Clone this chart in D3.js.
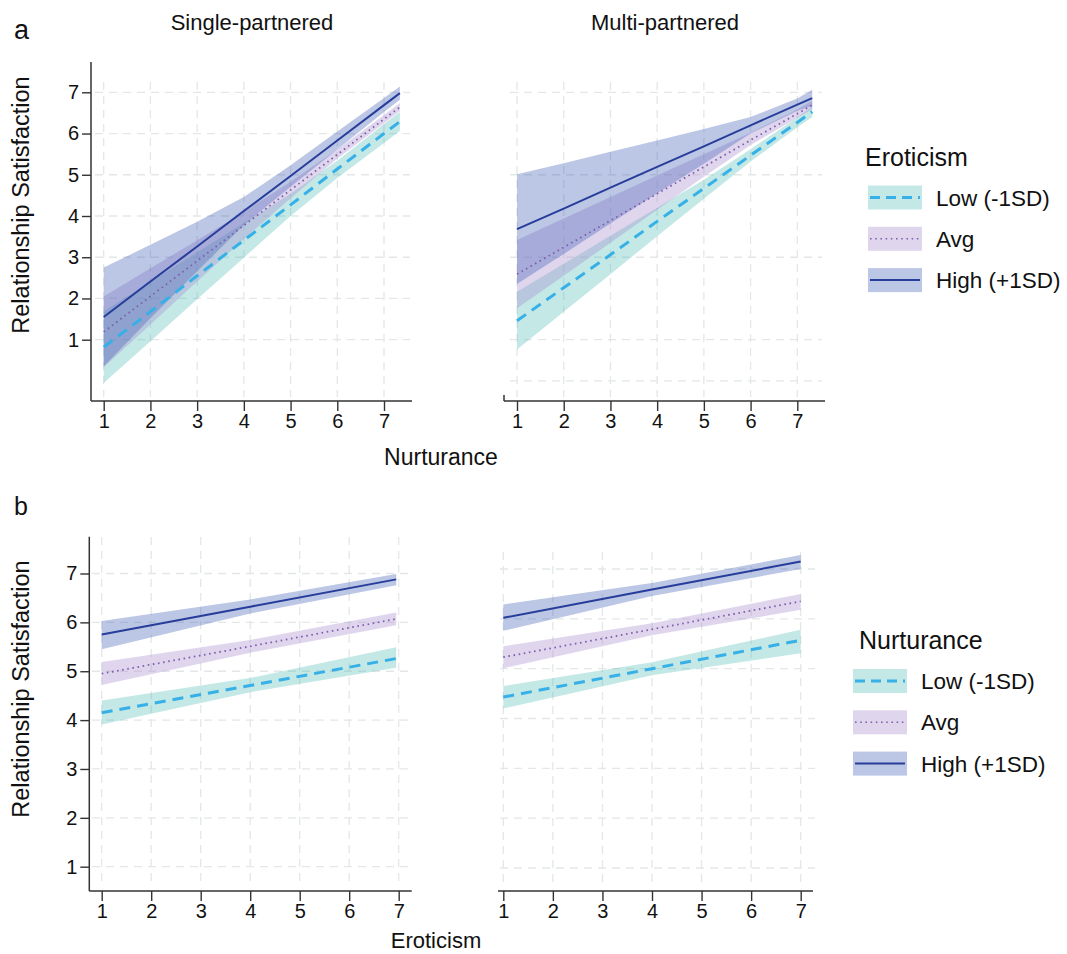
<!DOCTYPE html>
<html>
<head>
<meta charset="utf-8">
<script src="https://cdn.jsdelivr.net/npm/d3@7"></script>
<style>
	body { margin: 0; background: #fff; }
	text { font-family: "Liberation Sans", Arial, Helvetica, sans-serif; fill: #111; }
</style>
</head>
<body>
<svg id="chart" width="1067" height="954"></svg>
<script>
const levels = ["Low (-1SD)", "Avg", "High (+1SD)"];
const xTicks = [1, 2, 3, 4, 5, 6, 7];
const yTicks = [1, 2, 3, 4, 5, 6, 7];
const yGridMulti = [0, 1, 3, 5, 7];

// panel a, single-partnered (x = Nurturance)
const aSingleX = [1, 2, 3, 4, 5, 6, 7, 7.34];
const aSingleLowFit = [0.82, 1.68, 2.55, 3.41, 4.27, 5.14, 6.00, 6.29];
const aSingleLowLo = [-0.05, 0.96, 1.98, 2.99, 4.00, 4.92, 5.77, 6.06];
const aSingleLowHi = [1.69, 2.40, 3.12, 3.83, 4.54, 5.34, 6.23, 6.52];
const aSingleAvgFit = [1.19, 2.05, 2.91, 3.77, 4.63, 5.49, 6.35, 6.64];
const aSingleAvgLo = [0.33, 1.37, 2.41, 3.44, 4.43, 5.39, 6.25, 6.54];
const aSingleAvgHi = [2.05, 2.73, 3.41, 4.10, 4.83, 5.61, 6.45, 6.74];
const aSingleHighFit = [1.55, 2.41, 3.26, 4.12, 4.97, 5.83, 6.69, 6.98];
const aSingleHighLo = [0.35, 1.52, 2.66, 3.78, 4.71, 5.61, 6.52, 6.82];
const aSingleHighHi = [2.75, 3.30, 3.86, 4.46, 5.23, 6.05, 6.86, 7.14];

// panel a, multi-partnered
const aMultiX = [1, 2, 3, 4, 5, 6, 7, 7.32];
const aMultiLowFit = [1.46, 2.26, 3.06, 3.87, 4.67, 5.47, 6.27, 6.53];
const aMultiLowLo = [0.76, 1.68, 2.59, 3.51, 4.42, 5.32, 6.15, 6.40];
const aMultiLowHi = [2.16, 2.84, 3.52, 4.20, 4.88, 5.62, 6.39, 6.66];
const aMultiAvgFit = [2.59, 3.24, 3.89, 4.54, 5.19, 5.84, 6.48, 6.69];
const aMultiAvgLo = [1.76, 2.55, 3.35, 4.15, 4.95, 5.72, 6.38, 6.59];
const aMultiAvgHi = [3.42, 3.94, 4.46, 4.98, 5.50, 6.02, 6.58, 6.79];
const aMultiHighFit = [3.68, 4.18, 4.69, 5.19, 5.69, 6.20, 6.70, 6.86];
const aMultiHighLo = [2.35, 3.08, 3.82, 4.55, 5.27, 6.00, 6.55, 6.66];
const aMultiHighHi = [5.01, 5.28, 5.56, 5.83, 6.11, 6.40, 6.85, 7.06];

// panel b, single-partnered (x = Eroticism)
const bSingleX = [1, 4, 6.95];
const bSingleLowFit = [4.15, 4.71, 5.26];
const bSingleLowLo = [3.91, 4.57, 5.07];
const bSingleLowHi = [4.40, 4.86, 5.49];
const bSingleAvgFit = [4.95, 5.51, 6.07];
const bSingleAvgLo = [4.72, 5.38, 5.94];
const bSingleAvgHi = [5.19, 5.64, 6.20];
const bSingleHighFit = [5.75, 6.32, 6.88];
const bSingleHighLo = [5.45, 6.18, 6.76];
const bSingleHighHi = [6.03, 6.47, 6.99];

// panel b, multi-partnered
const bMultiX = [1, 4, 7];
const bMultiLowFit = [4.43, 5.00, 5.57];
const bMultiLowLo = [4.20, 4.87, 5.31];
const bMultiLowHi = [4.65, 5.13, 5.78];
const bMultiAvgFit = [5.23, 5.79, 6.35];
const bMultiAvgLo = [5.01, 5.67, 6.18];
const bMultiAvgHi = [5.45, 5.91, 6.50];
const bMultiHighFit = [6.02, 6.59, 7.15];
const bMultiHighLo = [5.76, 6.46, 7.00];
const bMultiHighHi = [6.29, 6.72, 7.28];

const bandColors = ["rgb(84,189,184)", "rgb(164,138,206)", "rgb(64,92,181)"];
const lineColors = ["#36b0e6", "#7d5fae", "#273d9a"];
const lineWidths = [3, 1.8, 2];
const lineDashes = ["11,7", "1.6,3.6", null];
const gridColor = "#e4e7e7";

const svg = d3.select("#chart");

function makeSeries(fits, los, his) {
	return levels.map((name, i) => ({ name, fit: fits[i], lo: los[i], hi: his[i] }));
}

function styleTicks(sel) {
	sel.attr("font-size", 20).attr("font-family", "'Liberation Sans', Arial, sans-serif");
	sel.select(".domain").remove();
	sel.selectAll(".tick line").attr("stroke", "#333").attr("stroke-width", 1.4);
	sel.selectAll(".tick text").attr("fill", "#111");
}

function drawPanel(cfg, xs, series) {
	const x = d3.scaleLinear().domain([1, 7]).range([cfg.x1, cfg.x7]);
	const y = d3.scaleLinear().domain([1, 7]).range([cfg.y1, cfg.y7]);
	const g = svg.append("g");

	g.selectAll(".vgrid")
		.data(xTicks)
		.enter()
		.append("line")
		.attr("x1", d => x(d))
		.attr("x2", d => x(d))
		.attr("y1", cfg.gridTop)
		.attr("y2", cfg.axisY - 4)
		.attr("stroke", gridColor)
		.attr("stroke-width", 1.3)
		.attr("stroke-dasharray", "8,6");

	g.selectAll(".hgrid")
		.data(cfg.yGrid)
		.enter()
		.append("line")
		.attr("x1", cfg.gridLeft)
		.attr("x2", cfg.gridRight)
		.attr("y1", d => y(d))
		.attr("y2", d => y(d))
		.attr("stroke", gridColor)
		.attr("stroke-width", 1.3)
		.attr("stroke-dasharray", "8,6");

	series.forEach((s, i) => {
		const area = d3.area()
			.x((d, j) => x(xs[j]))
			.y0((d, j) => y(s.lo[j]))
			.y1((d, j) => y(s.hi[j]));
		g.append("path")
			.datum(s.fit)
			.attr("d", area)
			.attr("fill", bandColors[i])
			.attr("fill-opacity", 0.35);
	});

	series.forEach((s, i) => {
		const line = d3.line()
			.x((d, j) => x(xs[j]))
			.y(d => y(d));
		g.append("path")
			.datum(s.fit)
			.attr("d", line)
			.attr("fill", "none")
			.attr("stroke", lineColors[i])
			.attr("stroke-width", lineWidths[i])
			.attr("stroke-dasharray", lineDashes[i]);
	});

	// x axis
	const xAxis = d3.axisBottom(x).tickValues(xTicks).tickFormat(d3.format("d"))
		.tickSize(10).tickPadding(3);
	g.append("g")
		.attr("transform", `translate(0,${cfg.axisY})`)
		.call(xAxis)
		.call(styleTicks);
	g.append("line")
		.attr("x1", cfg.axisL).attr("x2", cfg.axisR)
		.attr("y1", cfg.axisY).attr("y2", cfg.axisY)
		.attr("stroke", "#333").attr("stroke-width", 1.5);

	if (cfg.yAxis) {
		const yAxis = d3.axisLeft(y).tickValues(yTicks).tickFormat(d3.format("d"))
			.tickSize(9).tickPadding(3);
		g.append("g")
			.attr("transform", `translate(${cfg.axisL},0)`)
			.call(yAxis)
			.call(styleTicks);
		g.append("line")
			.attr("x1", cfg.axisL).attr("x2", cfg.axisL)
			.attr("y1", cfg.axisTop).attr("y2", cfg.axisY)
			.attr("stroke", "#333").attr("stroke-width", 1.5);
	} else if (cfg.stub) {
		g.append("line")
			.attr("x1", cfg.axisL).attr("x2", cfg.axisL)
			.attr("y1", cfg.axisY - 6).attr("y2", cfg.axisY)
			.attr("stroke", "#333").attr("stroke-width", 1.5);
	}
}

function drawLegend(lx, ly, title, titleX) {
	const g = svg.append("g");
	g.append("text")
		.attr("x", titleX)
		.attr("y", ly - 32)
		.style("font-size", "25px")
		.text(title);
	levels.forEach((name, i) => {
		const cy = ly + i * 41.3;
		g.append("rect")
			.attr("x", lx).attr("y", cy - 12)
			.attr("width", 54).attr("height", 24)
			.attr("fill", bandColors[i])
			.attr("fill-opacity", 0.35);
		g.append("line")
			.attr("x1", lx + 2).attr("x2", lx + 52)
			.attr("y1", cy).attr("y2", cy)
			.attr("stroke", lineColors[i])
			.attr("stroke-width", i === 1 ? 1.6 : lineWidths[i])
			.attr("stroke-dasharray", i === 0 ? "10,6" : lineDashes[i]);
		g.append("text")
			.attr("x", lx + 68)
			.attr("y", cy + 8)
			.style("font-size", "22.5px")
			.text(name);
	});
}

drawPanel(
	{ x1: 103.7, x7: 384, y1: 339.7, y7: 92.3, axisL: 91, axisR: 412, axisTop: 62, axisY: 401,
		gridTop: 82, gridLeft: 95, gridRight: 410, yGrid: yTicks, yAxis: true },
	aSingleX,
	makeSeries([aSingleLowFit, aSingleAvgFit, aSingleHighFit],
		[aSingleLowLo, aSingleAvgLo, aSingleHighLo],
		[aSingleLowHi, aSingleAvgHi, aSingleHighHi])
);

drawPanel(
	{ x1: 517, x7: 797.3, y1: 339.7, y7: 92.3, axisL: 504, axisR: 825, axisY: 401,
		gridTop: 82, gridLeft: 510, gridRight: 822, yGrid: yGridMulti, yAxis: false, stub: true },
	aMultiX,
	makeSeries([aMultiLowFit, aMultiAvgFit, aMultiHighFit],
		[aMultiLowLo, aMultiAvgLo, aMultiHighLo],
		[aMultiLowHi, aMultiAvgHi, aMultiHighHi])
);

drawPanel(
	{ x1: 101.7, x7: 398.7, y1: 866.7, y7: 573.5, axisL: 89.3, axisR: 411.7, axisTop: 536.7, axisY: 891,
		gridTop: 537, gridLeft: 92, gridRight: 410, yGrid: yTicks, yAxis: true },
	bSingleX,
	makeSeries([bSingleLowFit, bSingleAvgFit, bSingleHighFit],
		[bSingleLowLo, bSingleAvgLo, bSingleHighLo],
		[bSingleLowHi, bSingleAvgHi, bSingleHighHi])
);

drawPanel(
	{ x1: 503.3, x7: 800.7, y1: 868, y7: 569, axisL: 498, axisR: 813, axisY: 891,
		gridTop: 552, gridLeft: 500, gridRight: 815, yGrid: yTicks, yAxis: false },
	bMultiX,
	makeSeries([bMultiLowFit, bMultiAvgFit, bMultiHighFit],
		[bMultiLowLo, bMultiAvgLo, bMultiHighLo],
		[bMultiLowHi, bMultiAvgHi, bMultiHighHi])
);

// panel letters, titles and axis labels
svg.append("text").attr("x", 14).attr("y", 39).style("font-size", "27px").text("a");
svg.append("text").attr("x", 14).attr("y", 515).style("font-size", "25px").text("b");

svg.append("text").attr("x", 252).attr("y", 30).attr("text-anchor", "middle")
	.style("font-size", "22px").text("Single-partnered");
svg.append("text").attr("x", 665).attr("y", 30).attr("text-anchor", "middle")
	.style("font-size", "22px").text("Multi-partnered");

svg.append("text").attr("transform", "translate(29,205) rotate(-90)").attr("text-anchor", "middle")
	.style("font-size", "23.5px").text("Relationship Satisfaction");
svg.append("text").attr("transform", "translate(29,689) rotate(-90)").attr("text-anchor", "middle")
	.style("font-size", "23.5px").text("Relationship Satisfaction");

svg.append("text").attr("x", 441).attr("y", 465).attr("text-anchor", "middle")
	.style("font-size", "23px").text("Nurturance");
svg.append("text").attr("x", 436).attr("y", 948).attr("text-anchor", "middle")
	.style("font-size", "22px").text("Eroticism");

drawLegend(868, 197.5, "Eroticism", 865);
drawLegend(853, 681, "Nurturance", 859);
</script>
</body>
</html>
